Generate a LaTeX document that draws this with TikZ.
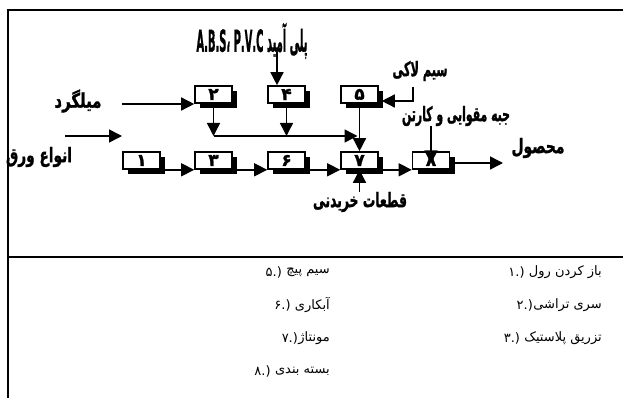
\documentclass[tikz,border=0pt]{standalone}
\usepackage{fontspec}
\usepackage{graphicx}
\usetikzlibrary{arrows.meta,shadows}
\TeXXeTstate=1
\newfontfamily\arfont[Script=Arabic]{DejaVu Sans}
\newfontfamily\arheavy[Script=Arabic,FakeBold=1.5]{DejaVu Sans}
\newfontfamily\numfont{DejaVu Sans}
% heavy, horizontally squeezed Persian label: width, size, text
\newcommand\titr[3]{\resizebox{#1}{\height}{\fontsize{#2}{#2}\selectfont\arheavy\bfseries #3}}
% step number of the legend, written left to right
\newcommand\stepno[1]{#1\kern0pt.\kern0pt)}
\tikzset{
  frameline/.style={line width=2pt},
  wire/.style={line width=1.5pt},
  arr/.style={wire,-{Triangle[length=13pt,width=13pt]}},
  proc/.style={draw,line width=1.6pt,fill=white,minimum width=37pt,minimum height=17pt,
    inner sep=0pt,font=\fontsize{17}{17}\selectfont\arheavy\bfseries,
    drop shadow={shadow xshift=5pt,shadow yshift=-5pt,fill=black,opacity=1}},
  lbl/.style={inner sep=0pt},
  leg/.style={inner sep=0pt,anchor=east,font=\fontsize{13}{13}\selectfont\arfont},
  legnum/.style={inner sep=0pt,anchor=east,font=\fontsize{13}{13}\selectfont\numfont}
}
\begin{document}
\begin{tikzpicture}[x=1pt,y=-1pt]
\useasboundingbox (0,0) rectangle (623,398);

% outer frame
\draw[frameline] (623,10) -- (8,10) -- (8,398);
\draw[frameline] (8,257) -- (623,257);

% process boxes
\node[proc] (b2) at (213.5,94.5) {۲};
\node[proc] (b4) at (286.5,94.5) {۴};
\node[proc] (b5) at (359.5,94.5) {۵};
\node[proc] (b1) at (141.5,160.5) {۱};
\node[proc] (b3) at (213.5,160.5) {۳};
\node[proc] (b6) at (286.5,160.5) {۶};
\node[proc] (b7) at (359.5,160.5) {۷};
\node[proc] (b8) at (431,160.5) {۸};

% input / output labels
\node[lbl] (lp) at (252,41) {\titr{111pt}{30}{\beginR پلی آمید \beginL P.V.C\endL\ ،\beginL A.B.S\endL\endR}};
\node[lbl] (lm) at (78,101) {\titr{47pt}{20}{\beginR میلگرد\endR}};
\node[lbl] (lv) at (39,157) {\titr{66pt}{20}{\beginR انواع ورق\endR}};
\node[lbl] (ls) at (420,71) {\titr{55pt}{20}{\beginR سیم لاکی\endR}};
\node[lbl] (lj) at (456,116) {\titr{108pt}{20}{\beginR جبه مقوایی و کارتن\endR}};
\node[lbl] (lo) at (538,148) {\titr{53pt}{20}{\beginR محصول\endR}};
\node[lbl] (lq) at (360,202) {\titr{94pt}{20}{\beginR قطعات خریدنی\endR}};

% free ends of the connectors
\coordinate (p0) at (277,52);
\coordinate (m0) at (122,104);
\coordinate (s0) at (65,136);
\coordinate (s1) at (122,136);
\coordinate (bus) at (0,136);
\coordinate (w0) at (413,87);
\coordinate (w1) at (413,101);
\coordinate (c0) at (431,126);
\coordinate (out) at (503,163);

% feeds into the upper row
\draw[arr] (p0) -- (p0 |- b4.north);
\draw[arr] (m0) -- (b2.west |- m0);
\draw[arr,shorten >=3pt] (w0) -- (w1) -- (b5.east |- w1);

% collecting line towards assembly
\draw[arr] (b2.south) -- (b2.south |- bus);
\draw[arr] (b4.south) -- (b4.south |- bus);
\draw[arr,shorten >=2pt] (b2.south |- bus) -- (b5.south |- bus);
\draw[arr] (b5.south) -- (b7.north);

% main line
\draw[arr] (s0) -- (s1);
\draw[arr] (b1.south east) -- (b3.south west);
\draw[arr] (b3.south east) -- (b6.south west);
\draw[arr] (b6.south east) -- (b7.south west);
\draw[arr] (b7.south east) -- (b8.south west);
\draw[arr] (b8.east |- out) -- (out);
\draw[arr] (b8.north |- c0) -- ([yshift=-3pt]b8.center);
\draw[arr] (b7.south |- lq.north) -- (b7.south);

% legend: step names, each with its number on the left
\node[leg] (k1) at (602,272) {\beginR باز کردن رول\endR};
\node[leg] (k2) at (602,305) {\beginR سری تراشی\endR};
\node[leg] (k3) at (602,338) {\beginR تزریق پلاستیک\endR};
\node[leg] (k5) at (330,272) {\beginR سیم پیچ\endR};
\node[leg] (k6) at (330,305) {\beginR آبکاری\endR};
\node[leg] (k7) at (330,338) {\beginR مونتاژ\endR};
\node[leg] (k8) at (330,371) {\beginR بسته بندی\endR};
\node[legnum] (n1) at ([xshift=-4pt]k1.west) {\stepno{۱}};
\node[legnum] (n2) at (k2.west) {\stepno{۲}};
\node[legnum] (n3) at ([xshift=-4pt]k3.west) {\stepno{۳}};
\node[legnum] (n5) at ([xshift=-4pt]k5.west) {\stepno{۵}};
\node[legnum] (n6) at ([xshift=-4pt]k6.west) {\stepno{۶}};
\node[legnum] (n7) at (k7.west) {\stepno{۷}};
\node[legnum] (n8) at ([xshift=-4pt]k8.west) {\stepno{۸}};
\end{tikzpicture}
\end{document}
